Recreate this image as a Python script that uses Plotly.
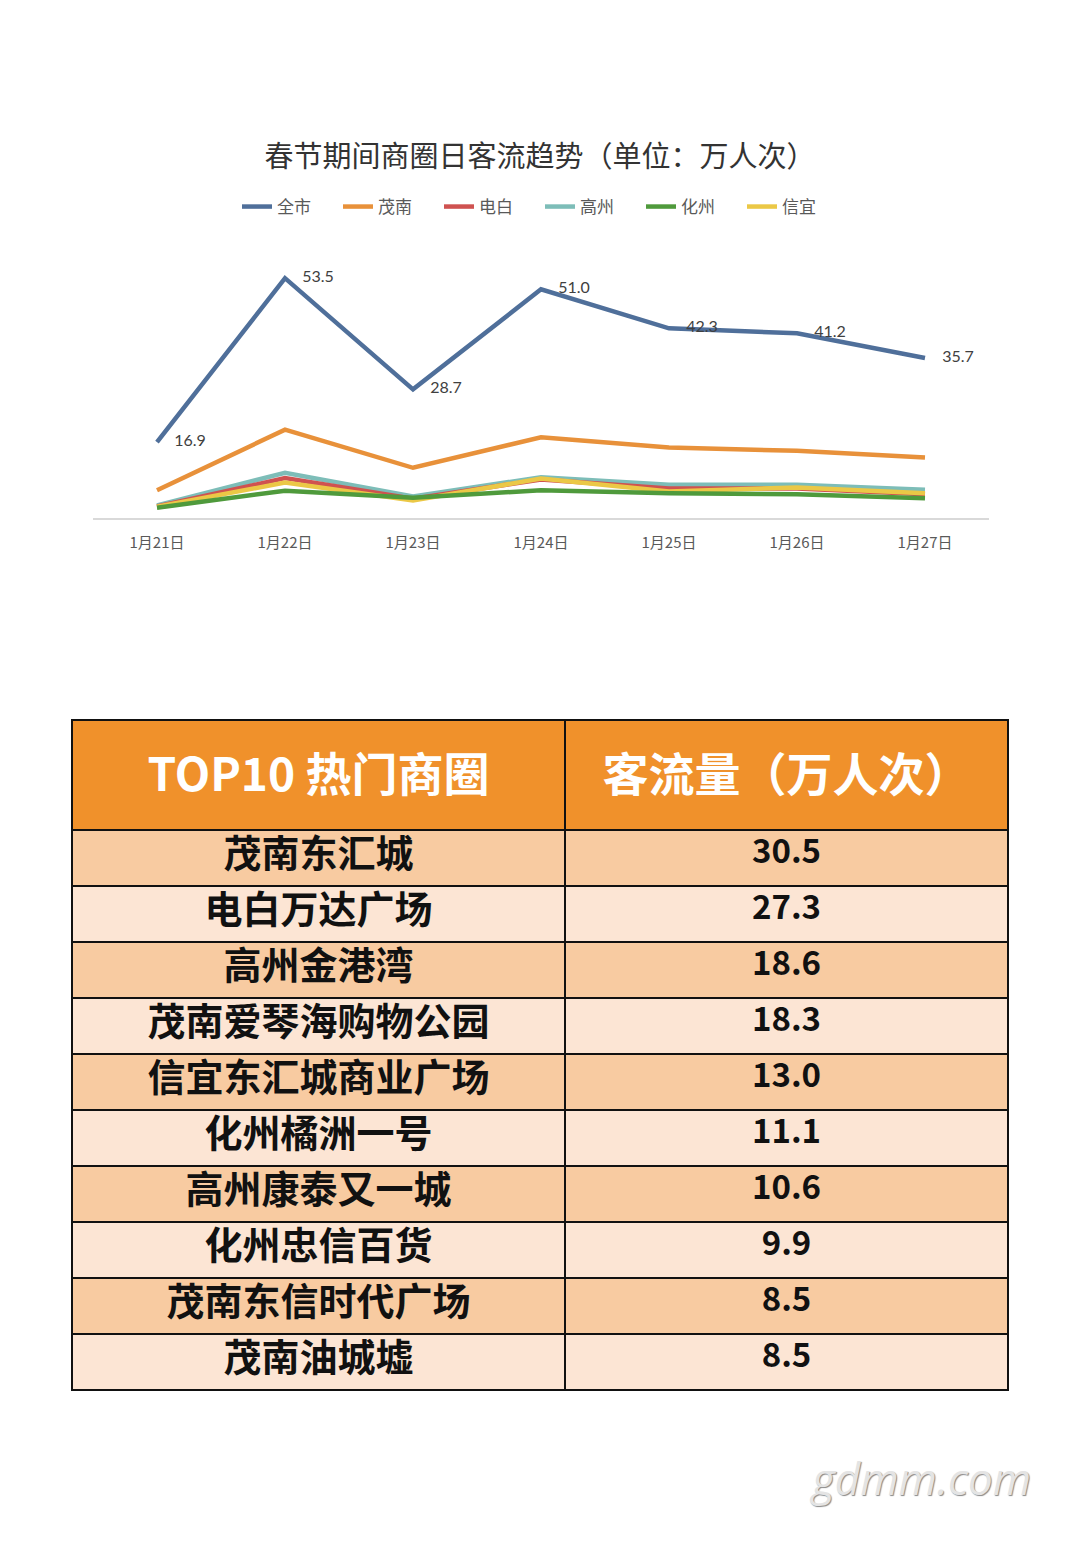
import plotly.graph_objects as go

# ---- data ----
dates = ["1月21日", "1月22日", "1月23日", "1月24日", "1月25日", "1月26日", "1月27日"]
series_names = ["全市", "茂南", "电白", "高州", "化州", "信宜"]
quanshi = [16.9, 53.5, 28.7, 51.0, 42.3, 41.2, 35.7]
maonan = [6.2, 19.7, 11.2, 18.0, 15.7, 15.0, 13.5]
dianbai = [2.6, 8.9, 4.3, 8.6, 6.6, 6.6, 5.3]
gaozhou = [2.8, 10.1, 4.8, 9.1, 7.4, 7.4, 6.3]
huazhou = [2.3, 6.1, 4.5, 6.2, 5.5, 5.3, 4.4]
xinyi = [2.5, 7.9, 3.9, 8.8, 5.9, 6.8, 5.5]

top10_names = ["茂南东汇城", "电白万达广场", "高州金港湾", "茂南爱琴海购物公园", "信宜东汇城商业广场",
               "化州橘洲一号", "高州康泰又一城", "化州忠信百货", "茂南东信时代广场", "茂南油城墟"]
top10_values = ["30.5", "27.3", "18.6", "18.3", "13.0", "11.1", "10.6", "9.9", "8.5", "8.5"]
table_header = ["TOP10 热门商圈", "客流量（万人次）"]

colors = ["#4F6F9A", "#E8913A", "#CF5250", "#7DBDB8", "#4F9A3C", "#EBC846"]
all_series = [quanshi, maonan, dianbai, gaozhou, huazhou, xinyi]

W, H = 1080, 1542
def py(px):
    return 1 - px / H

def header_cell(txt):
    # a taller blank on each side deepens the line box so the title sits centred in the tall header
    pad = '<span style="font-size:54px">\u00a0</span>'
    return f'{pad}<span style="font-size:46px">{txt}</span>{pad}<br>'

fig = go.Figure()
for i in range(6):
    vals = all_series[i]
    is_total = (i == 0)
    fig.add_trace(go.Scatter(
        x=dates, y=vals, name=series_names[i],
        mode="lines+markers+text" if is_total else "lines",
        marker=dict(size=26, color="rgba(0,0,0,0)") if is_total else None,
        text=[f"{v:.1f}" for v in vals] if is_total else None,
        textposition="middle right",
        textfont=dict(size=16, color="#404040", family="Lato, Noto Sans CJK SC"),
        line=dict(color=colors[i], width=4.5),
        legendrank=i + 1,
        hoverinfo="skip",
    ))
# draw smaller series beneath the blue and orange lines
fig.data = tuple(fig.data[k] for k in [3, 2, 5, 4, 1, 0])

fig.add_trace(go.Table(
    domain=dict(x=[72 / W, 1008 / W], y=[py(1392), py(720)]),
    columnwidth=[493, 443],
    header=dict(
        values=[header_cell(h) for h in table_header],
        fill_color="#F0912B",
        line=dict(color="#111111", width=2),
        align="center",
        height=110,
        font=dict(size=46, color="white", family="Noto Sans CJK SC", weight="bold"),
    ),
    cells=dict(
        values=[top10_names, top10_values],
        fill_color=[["#F8CBA1" if r % 2 == 0 else "#FCE5D4" for r in range(10)]] * 2,
        line=dict(color="#111111", width=2),
        align="center",
        height=56,
        font=dict(size=[38, 33], color="#111111", family="Noto Sans CJK SC", weight="bold"),
    ),
))

fig.update_layout(
    width=W, height=H,
    margin=dict(l=0, r=0, t=0, b=0),
    paper_bgcolor="white", plot_bgcolor="white",
    font=dict(family="Noto Sans CJK SC, Lato", color="#595959"),
    title=dict(text="春节期间商圈日客流趋势（单位：万人次）", x=0.5, xanchor="center",
               y=py(157), yanchor="middle",
               font=dict(size=29, color="#333333", family="Noto Sans CJK SC")),
    legend=dict(orientation="h", x=0.5, xanchor="center", y=py(207), yanchor="middle",
                font=dict(size=17, color="#595959"), traceorder="normal",
                entrywidth=56, entrywidthmode="pixels"),
    xaxis=dict(domain=[93 / W, 989 / W], showgrid=False, showline=True, linecolor="#D9D9D9",
               linewidth=2, ticks="", tickfont=dict(size=15, color="#595959"),
               range=[-0.5, 6.5], fixedrange=True, anchor="y", ticklabelstandoff=10),
    yaxis=dict(domain=[py(518), py(249)], range=[0, 60], visible=False, fixedrange=True),
    showlegend=True,
)

fig.add_annotation(
    text="gdmm.com", xref="paper", yref="paper", x=920 / W, y=py(1478),
    showarrow=False, xanchor="center", yanchor="middle",
    font=dict(size=44, color="#E4E4E4", family="Open Sans", style="italic",
              shadow="1px 1px 1px #888888"),
)

fig.write_html("out.html")
